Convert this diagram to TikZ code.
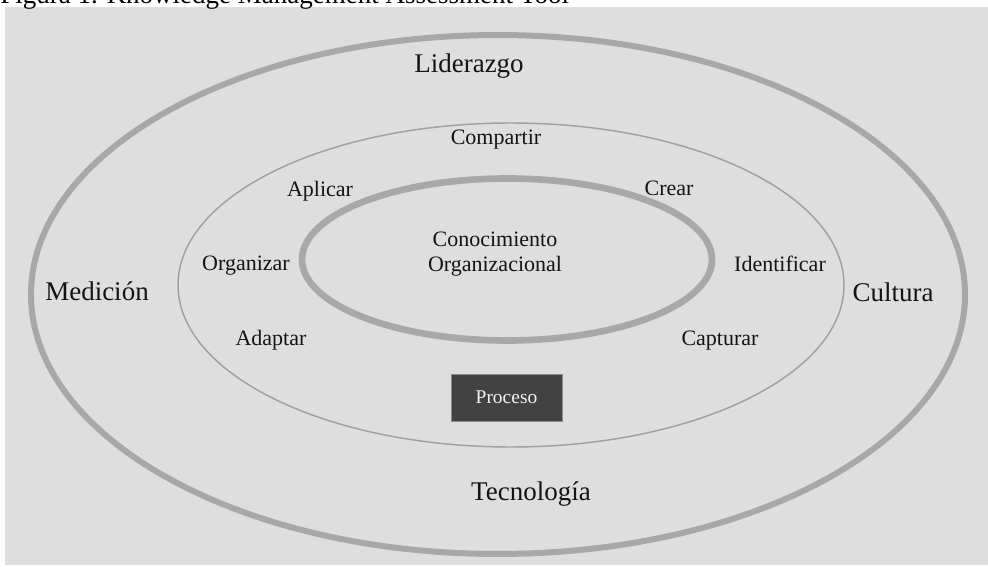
\documentclass[tikz,border=0pt]{standalone}
\usepackage{fontspec}
\setmainfont{Liberation Serif}

\definecolor{panel}{HTML}{DEDEDE}
\definecolor{ringgray}{HTML}{A8A8A8}
\definecolor{boxfill}{HTML}{424242}

\tikzset{
	bigtag/.style={anchor=base, inner sep=0pt, text=black!92, font=\fontsize{20.25}{24}\selectfont},
	smalltag/.style={anchor=base, inner sep=0pt, text=black!92, font=\fontsize{16.5}{18.75}\selectfont},
	ring/.style={draw=ringgray, line width=#1},
	procbox/.style={draw=black!45, fill=boxfill, text=white!94!black, inner sep=0pt,
		minimum width=83.25pt, minimum height=35.25pt, font=\fontsize{14.6}{17}\selectfont},
}

\begin{document}
\begin{tikzpicture}[x=0.75pt, y=-0.75pt]
	\useasboundingbox (0,0) rectangle (988,567);
	\fill [panel] (5,7) rectangle (988,565);
	\node [anchor=base west, inner sep=0pt, font=\fontsize{20.25}{24}\selectfont] (caption) at (0,4)
		{Figura 1. Knowledge Management Assessment Tool};

	\draw [ring=4.5pt] (498,294.5) ellipse [x radius=350.25pt, y radius=194.6pt];
	\draw [ring=1.1pt, draw=ringgray!95!black] (511,285) ellipse [x radius=249.75pt, y radius=121.5pt];
	\draw [ring=5pt] (507,259.5) ellipse [x radius=153.75pt, y radius=60.75pt];

	\foreach \nm/\x/\y/\txt in {lid/469/73/Liderazgo, med/97/300/Medición,
		cul/893/301/Cultura, tec/531/500/Tecnología} {
		\node [bigtag] (\nm) at (\x,\y) {\txt};
	}
	\foreach \nm/\x/\y/\txt in {com/496/144/Compartir, apl/320/196/Aplicar, cre/669/195/Crear,
		org/246/270/Organizar, ide/780/271/Identificar, ada/271/345/Adaptar, cap/720/345/Capturar} {
		\node [smalltag] (\nm) at (\x,\y) {\txt};
	}
	\node [smalltag, anchor=center, align=center] (core) at (495,254) {Conocimiento\\Organizacional};
	\node [procbox] (proc) at (506.5,397.5) {Proceso};
\end{tikzpicture}
\end{document}
